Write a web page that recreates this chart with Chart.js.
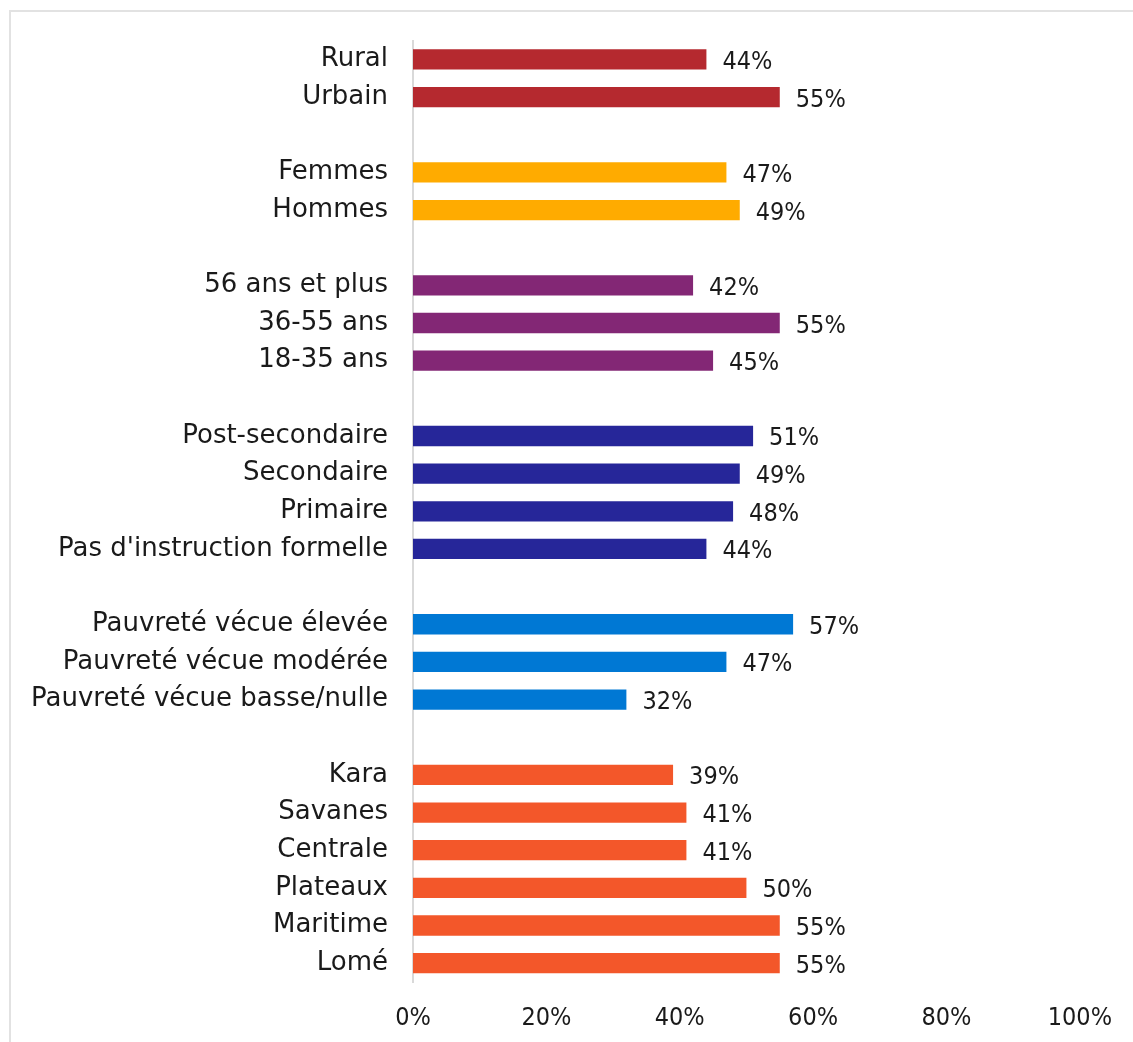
<!DOCTYPE html>
<html lang="fr">
<head>
<meta charset="UTF-8">
<title>Répartition par groupe</title>
<script src="https://cdn.jsdelivr.net/npm/chart.js"></script>
<style>
    html, body { margin: 0; padding: 0; background: #fff; overflow: hidden; }
    #frame {
        position: absolute; left: 9px; top: 10px;
        width: 1200px; height: 1100px;
        border-left: 2px solid #e2e2e2; border-top: 2px solid #e2e2e2;
    }
    #wrap { position: absolute; left: 0; top: 0; width: 1133px; height: 1042px; }
</style>
</head>
<body>
<div id="frame"></div>
<div id="wrap"><canvas id="chart"></canvas></div>
<script>
// groupes (de haut en bas)
const milieuLabels = ['Rural', 'Urbain'];
const milieuValues = [44, 55];
const sexeLabels = ['Femmes', 'Hommes'];
const sexeValues = [47, 49];
const ageLabels = ['56 ans et plus', '36-55 ans', '18-35 ans'];
const ageValues = [42, 55, 45];
const educLabels = ['Post-secondaire', 'Secondaire', 'Primaire', "Pas d'instruction formelle"];
const educValues = [51, 49, 48, 44];
const pauvreteLabels = ['Pauvreté vécue élevée', 'Pauvreté vécue modérée', 'Pauvreté vécue basse/nulle'];
const pauvreteValues = [57, 47, 32];
const regionLabels = ['Kara', 'Savanes', 'Centrale', 'Plateaux', 'Maritime', 'Lomé'];
const regionValues = [39, 41, 41, 50, 55, 55];
const xTicks = [0, 20, 40, 60, 80, 100];

const groups = [
    { labels: milieuLabels, values: milieuValues, color: '#b5292f' },
    { labels: sexeLabels, values: sexeValues, color: '#ffab00' },
    { labels: ageLabels, values: ageValues, color: '#832775' },
    { labels: educLabels, values: educValues, color: '#262699' },
    { labels: pauvreteLabels, values: pauvreteValues, color: '#0078d4' },
    { labels: regionLabels, values: regionValues, color: '#f3572a' }
];

// une ligne vide entre chaque groupe
const labels = [], values = [], colors = [];
groups.forEach((g, i) => {
    if (i > 0) { labels.push(''); values.push(null); colors.push('transparent'); }
    g.labels.forEach((l, j) => {
        labels.push(l); values.push(g.values[j]); colors.push(g.color);
    });
});

const FONT = "'DejaVu Sans', sans-serif";
const NUM_FONT = "'DejaVu Sans Condensed', 'DejaVu Sans', sans-serif";

const valueLabels = {
    id: 'valueLabels',
    afterDatasetsDraw(chart) {
        const ctx = chart.ctx;
        const meta = chart.getDatasetMeta(0);
        ctx.save();
        ctx.font = '25px ' + NUM_FONT;
        ctx.fillStyle = '#1a1a1a';
        ctx.textAlign = 'left';
        ctx.textBaseline = 'middle';
        meta.data.forEach((bar, i) => {
            const v = values[i];
            if (v === null) return;
            ctx.fillText(v + '%', bar.x + 16, bar.y + 3);
        });
        ctx.restore();
    }
};

new Chart(document.getElementById('chart'), {
    type: 'bar',
    data: {
        labels: labels,
        datasets: [{
            data: values,
            backgroundColor: colors,
            borderWidth: 0,
            barPercentage: 0.54,
            categoryPercentage: 1
        }]
    },
    options: {
        indexAxis: 'y',
        responsive: true,
        maintainAspectRatio: false,
        animation: false,
        layout: { padding: { top: 38, right: 48, bottom: 10, left: 0 } },
        plugins: { legend: { display: false }, tooltip: { enabled: false } },
        scales: {
            y: {
                grid: { display: false, drawTicks: false },
                border: { display: true, color: '#d9d9d9', width: 2 },
                ticks: { color: '#1a1a1a', padding: 25, font: { family: FONT, size: 26 } },
                afterFit(scale) { scale.width = 413; }
            },
            x: {
                min: 0, max: 100,
                afterBuildTicks(scale) { scale.ticks = xTicks.map(v => ({ value: v })); },
                grid: { display: false, drawTicks: false },
                border: { display: false },
                ticks: {
                    color: '#1a1a1a', padding: 21, maxRotation: 0,
                    font: { family: NUM_FONT, size: 25 },
                    callback: v => v + '%'
                },
                afterFit(scale) { scale.height = 50; }
            }
        }
    },
    plugins: [valueLabels]
});
</script>
</body>
</html>
